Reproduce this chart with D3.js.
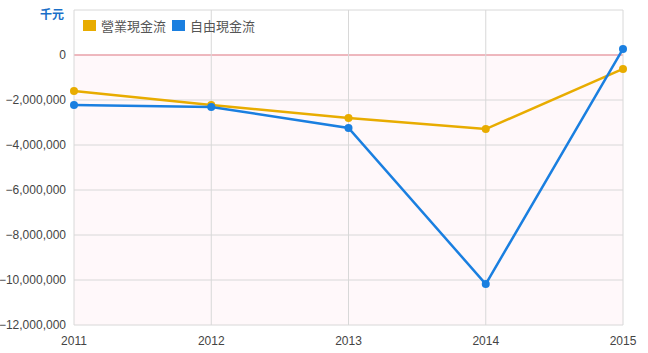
<!DOCTYPE html>
<html>
<head>
<meta charset="utf-8">
<script src="https://cdn.jsdelivr.net/npm/d3@7"></script>
<style>
body { margin: 0; background: #fff; font-family: "Liberation Sans", Arial, sans-serif; }
</style>
</head>
<body>
<div id="chart"></div>
<script>
const years = [2011, 2012, 2013, 2014, 2015];
const operatingCF = [-1600000, -2220000, -2800000, -3290000, -620000];
const freeCF = [-2220000, -2310000, -3240000, -10180000, 270000];
const yTicks = [0, -2000000, -4000000, -6000000, -8000000, -10000000, -12000000];
const seriesNames = ['營業現金流', '自由現金流'];
const colors = ['#e8ac00', '#1a7fe0'];

const W = 648, H = 353;
const margin = { top: 10, right: 25, bottom: 28, left: 74 };
const width = W - margin.left - margin.right;
const height = H - margin.top - margin.bottom;

const svg = d3.select('#chart').append('svg')
    .attr('width', W).attr('height', H);
const g = svg.append('g')
    .attr('transform', `translate(${margin.left},${margin.top})`);

const x = d3.scaleLinear().domain([2011, 2015]).range([0, width]);
const y = d3.scaleLinear().domain([-12000000, 2000000]).range([height, 0]);

// negative area shading
g.append('rect')
    .attr('x', 0).attr('y', y(0))
    .attr('width', width).attr('height', y(-12000000) - y(0))
    .attr('fill', '#fff8fa');

// horizontal grid
g.selectAll('.hgrid').data(yTicks.concat([2000000])).enter().append('line')
    .attr('x1', 0).attr('x2', width)
    .attr('y1', d => y(d)).attr('y2', d => y(d))
    .attr('stroke', d => d === 0 ? '#e8a0a8' : '#d8d8d8')
    .attr('stroke-width', d => d === 0 ? 1.5 : 1);

// vertical grid
g.selectAll('.vgrid').data(years).enter().append('line')
    .attr('x1', d => x(d)).attr('x2', d => x(d))
    .attr('y1', 0).attr('y2', height)
    .attr('stroke', '#d8d8d8');

// y axis labels
g.selectAll('.ylab').data(yTicks).enter().append('text')
    .attr('x', -8).attr('y', d => y(d) + 4)
    .attr('text-anchor', 'end')
    .attr('font-size', 12).attr('fill', '#444')
    .text(d => d3.format(',')(d));

// x axis labels
g.selectAll('.xlab').data(years).enter().append('text')
    .attr('x', d => x(d)).attr('y', height + 20)
    .attr('text-anchor', 'middle')
    .attr('font-size', 12).attr('fill', '#444')
    .text(d => d);

// unit
svg.append('text')
    .attr('x', 64).attr('y', 19)
    .attr('text-anchor', 'end')
    .attr('font-size', 12).attr('font-weight', 'bold')
    .attr('fill', '#1a6fc8')
    .attr('font-family', '"Noto Sans CJK TC", sans-serif')
    .text('千元');

// lines
const line = d3.line().x((d, i) => x(years[i])).y(d => y(d));
[operatingCF, freeCF].forEach((s, k) => {
    g.append('path').datum(s)
        .attr('d', line)
        .attr('fill', 'none')
        .attr('stroke', colors[k])
        .attr('stroke-width', 2.5);
    g.selectAll('.pt' + k).data(s).enter().append('circle')
        .attr('cx', (d, i) => x(years[i])).attr('cy', d => y(d))
        .attr('r', 4).attr('fill', colors[k]);
});

// legend
const legend = svg.append('g').attr('transform', 'translate(83,20)');
let lx = 0;
seriesNames.forEach((name, k) => {
    legend.append('rect').attr('x', lx).attr('y', 0)
        .attr('width', 13).attr('height', 11).attr('fill', colors[k]);
    legend.append('text').attr('x', lx + 18).attr('y', 10.5)
        .attr('font-size', 13).attr('fill', '#555')
        .attr('font-family', '"Noto Sans CJK TC", sans-serif')
        .text(name);
    lx += 89;
});
</script>
</body>
</html>
